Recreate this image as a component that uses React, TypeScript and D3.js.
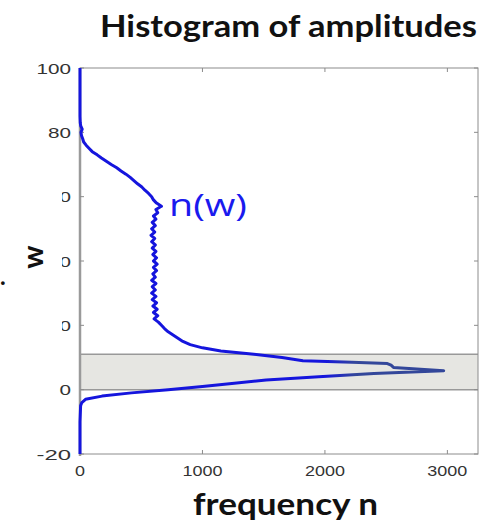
import React from "react";
import * as d3 from "d3";

// amplitude w (y) and frequency n (x)
const ampW = [
  -20, -10, -5, -4, -3, -2, -1, 0, 1, 2, 3, 4, 5, 5.9, 6.9, 7.6, 8.1, 8.5, 9, 10, 11,
  12, 13, 14, 15, 16, 17, 18, 19, 20, 21, 22, 23, 24, 25, 26, 27, 28, 29, 30, 31, 32,
  33, 34, 35, 36, 37, 38, 39, 40, 41, 42, 43, 44, 45, 46, 47, 48, 49, 50, 51, 52, 53,
  54, 55, 56, 57, 58, 59, 60, 61, 62, 63, 64, 65, 66, 67, 68, 69, 70, 71, 72, 73, 74,
  75, 76, 77, 78, 79, 80, 81, 82, 83, 85, 90, 100,
];
const freqN = [
  0, 0, 5, 15, 45, 180, 420, 720, 1000, 1260, 1520, 1950, 2400, 2970, 2560, 2540, 2510,
  2220, 1820, 1650, 1420, 1150, 1000, 900, 840, 800, 760, 720, 690, 665, 640, 605, 635,
  600, 630, 595, 625, 590, 620, 585, 615, 590, 620, 585, 615, 595, 625, 600, 630, 600,
  625, 595, 620, 590, 615, 585, 610, 580, 610, 585, 615, 590, 620, 600, 635, 620, 665,
  625, 600, 585, 560, 530, 505, 470, 440, 410, 375, 335, 300, 255, 215, 175, 140, 100,
  75, 50, 30, 22, 12, 8, 18, 6, 2, 0, 0, 0,
];

const xTicks = [0, 1000, 2000, 3000];
const yTicks = [-20, 0, 20, 40, 60, 80, 100];
const band = [0, 11];

const left = 80;
const right = 478;
const top = 68;
const bottom = 454;

export default function App() {
  const x = d3.scaleLinear().domain([0, 3250]).range([left, right]);
  const y = d3.scaleLinear().domain([-20, 100]).range([bottom, top]);

  const pts = ampW.map((w, i) => [freqN[i], w] as [number, number]);
  const line = d3
    .line<[number, number]>()
    .x((d) => x(d[0]))
    .y((d) => y(d[1]))
    .curve(d3.curveLinear);

  const axisCol = "#8c8c8c";
  const tickCol = "#333";
  const tickFont = "'Liberation Sans', Arial, sans-serif";

  return (
    <svg
      width={485}
      height={529}
      style={{ position: "absolute", left: 0, top: 0, background: "#fff" }}
    >
      <defs>
        <clipPath id="lblClip">
          <rect x={62} y={0} width={30} height={529} />
        </clipPath>
        <linearGradient
          id="lineGrad"
          gradientUnits="userSpaceOnUse"
          x1={x(2000)}
          x2={x(2250)}
          y1={0}
          y2={0}
        >
          <stop offset="0" stopColor="#1515dd" />
          <stop offset="1" stopColor="#33479a" />
        </linearGradient>
      </defs>

      <text
        x={100}
        y={37}
        textLength={377}
        lengthAdjust="spacingAndGlyphs"
        fontFamily="Lato, 'Open Sans', sans-serif"
        fontWeight="bold"
        fontSize={31}
        fill="#111"
      >
        Histogram of amplitudes
      </text>

      {/* shaded band */}
      <rect
        x={left}
        y={y(band[1])}
        width={right - left}
        height={y(band[0]) - y(band[1])}
        fill="#e6e6e2"
      />
      <line x1={left} x2={right} y1={y(band[1])} y2={y(band[1])} stroke="#999" strokeWidth={1.5} />
      <line x1={left} x2={right} y1={y(band[0])} y2={y(band[0])} stroke="#999" strokeWidth={1.5} />

      {/* frame */}
      <rect x={left} y={top} width={right - left} height={bottom - top} fill="none" stroke={axisCol} strokeWidth={1} />
      <line x1={left} x2={left} y1={top} y2={bottom + 2} stroke="#9a9a9a" strokeWidth={2.5} />

      {xTicks.map((t) => (
        <g key={"x" + t}>
          <line x1={x(t)} x2={x(t)} y1={bottom} y2={bottom - 4} stroke={axisCol} />
          <line x1={x(t)} x2={x(t)} y1={top} y2={top + 4} stroke={axisCol} />
          <text
            x={x(t)}
            y={476}
            textAnchor="middle"
            textLength={String(t).length * 10}
            lengthAdjust="spacingAndGlyphs"
            fontFamily={tickFont}
            fontSize={15}
            fill={tickCol}
          >
            {t}
          </text>
        </g>
      ))}

      {yTicks.map((t) => {
        const hidden = t === 20 || t === 40 || t === 60;
        return (
          <g key={"y" + t}>
            <line x1={left} x2={left + 4} y1={y(t)} y2={y(t)} stroke={axisCol} />
            <line x1={right} x2={right - 4} y1={y(t)} y2={y(t)} stroke={axisCol} />
            <text
              x={71}
              y={y(t) + 5.5}
              textAnchor="end"
              textLength={String(t).length * 11.5}
              lengthAdjust="spacingAndGlyphs"
              fontFamily={tickFont}
              fontSize={15}
              fill={tickCol}
              clipPath={hidden ? "url(#lblClip)" : undefined}
            >
              {t}
            </text>
          </g>
        );
      })}

      <path d={line(pts) ?? ""} fill="none" stroke="url(#lineGrad)" strokeWidth={3} strokeLinejoin="round" />

      <text
        x={169}
        y={216}
        textLength={78}
        lengthAdjust="spacingAndGlyphs"
        fontFamily="'Open Sans', 'Noto Sans', sans-serif"
        fontSize={31}
        fill="#1a1aee"
      >
        n(w)
      </text>

      <text
        transform={`translate(43,257) rotate(-90)`}
        textAnchor="middle"
        fontFamily="Lato, 'Open Sans', sans-serif"
        fontWeight="bold"
        fontSize={29}
        fill="#111"
      >
        w
      </text>
      <text x={0} y={285} fontFamily="Lato, sans-serif" fontWeight="bold" fontSize={24} fill="#111">
        .
      </text>

      <text
        x={193}
        y={515}
        textLength={185}
        lengthAdjust="spacingAndGlyphs"
        fontFamily="Lato, 'Open Sans', sans-serif"
        fontWeight="bold"
        fontSize={31}
        fill="#111"
      >
        frequency n
      </text>
    </svg>
  );
}
